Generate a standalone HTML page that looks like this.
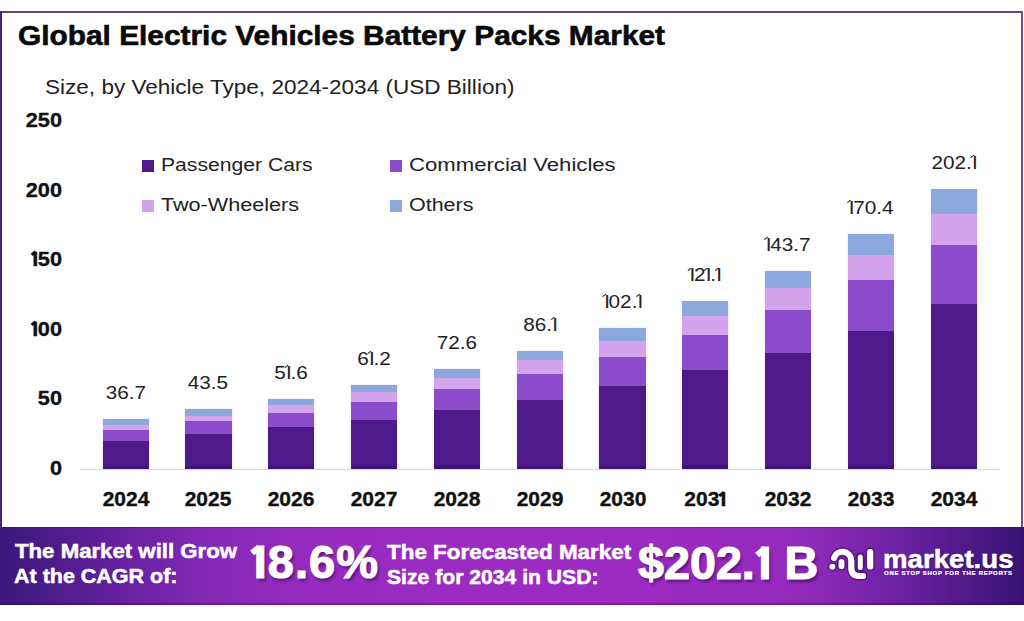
<!DOCTYPE html>
<html><head><meta charset="utf-8">
<style>
html,body{margin:0;padding:0;}
body{width:1024px;height:621px;overflow:hidden;background:#fff;position:relative;font-family:"Liberation Sans",sans-serif;}
.a{position:absolute;white-space:nowrap;}
#ftop{position:absolute;left:0;top:11px;width:1023px;height:2px;background:#654577;}
#fleft{position:absolute;left:0;top:11px;width:2px;height:516px;background:#4e1f80;}
#fright{position:absolute;left:1021px;top:11px;width:2px;height:516px;background:#76508a;}
#title{left:18px;top:20px;font-size:28px;font-weight:bold;color:#0a0a0a;transform-origin:0 0;transform:scaleX(1.066);-webkit-text-stroke:0.6px #0a0a0a;}
#sub{left:45px;top:76px;font-size:19.5px;color:#222;transform-origin:0 0;transform:scaleX(1.156);}
.yl{position:absolute;left:0;width:62px;text-align:right;font-size:21px;font-weight:bold;color:#111;transform-origin:100% 50%;transform:scaleX(1.035);-webkit-text-stroke:0.35px #111;}
.s{position:absolute;width:46.2px;box-shadow:0 0 2px rgba(200,170,230,0.5);}
.vl{position:absolute;width:80px;text-align:center;font-size:19px;color:#222;transform:scaleX(1.09);}
.ob{position:relative;margin:0 -0.5px 0 1px;}
.ob::before{content:"";position:absolute;left:-1.6px;top:5.2px;width:4.6px;height:2.6px;background:#111;transform:rotate(-38deg);}
.ow{position:relative;margin:0 0 0 0.08em;}
.ow::before{content:"";position:absolute;left:-0.05em;top:0.26em;width:0.2em;height:0.13em;background:#fff;transform:rotate(-40deg);}
.o{position:relative;margin:0 -1.2px 0 0.2px;}
.o::before{content:"";position:absolute;left:-1.4px;top:4.6px;width:3.6px;height:1.4px;background:#222;transform:rotate(-40deg);}
.yr{position:absolute;width:80px;text-align:center;top:488px;font-size:20px;font-weight:bold;color:#111;transform:scaleX(1.05);-webkit-text-stroke:0.35px #111;}
#axis{position:absolute;left:80px;top:469px;width:920px;height:1.2px;background:#dcdcdc;}
.lg{position:absolute;width:12px;height:12px;}
.lt{position:absolute;font-size:17.5px;color:#222;transform-origin:0 0;white-space:nowrap;}
#banner{position:absolute;left:0;top:527px;width:1024px;height:78px;box-shadow:inset 0 1px 0 rgba(60,10,90,0.35), inset 0 -2px 1px rgba(40,5,70,0.35);
 background:linear-gradient(90deg,#3b187a 0%,#561e94 8%,#8428b6 20%,#9a2bc0 32%,#9d2bc2 60%,#962abe 75%,#8c29b8 80%,#6c21a2 88%,#4c1886 95%,#3a1272 100%);}
.bt{position:absolute;color:#fff;font-weight:bold;-webkit-text-stroke:0.5px #fff;font-size:20px;line-height:25px;transform-origin:0 0;white-space:nowrap;}
.big{position:absolute;white-space:nowrap;-webkit-text-stroke:1.2px #fff;color:#fff;font-weight:bold;font-size:45px;transform-origin:0 0;text-shadow:2px 3px 3px rgba(50,0,80,0.55);}
#mk{left:883px;top:544.5px;font-size:25px;font-weight:bold;color:#fff;transform-origin:0 0;transform:scaleX(1.105);-webkit-text-stroke:0.5px #fff;text-shadow:1px 1px 2px rgba(40,0,70,0.6);}
#tag{left:884px;top:569.5px;font-size:6px;font-weight:bold;color:#fff;letter-spacing:0.71px;-webkit-text-stroke:0.2px #fff;transform-origin:0 0;}
</style></head><body>
<div id="ftop"></div><div id="fleft"></div><div id="fright"></div>
<div class="a" id="title">Global Electric Vehicles Battery Packs Market</div>
<div class="a" id="sub">Size, by Vehicle Type, 2024-2034 (USD Billion)</div>
<div class="yl" style="top:108px">250</div>
<div class="yl" style="top:177.5px">200</div>
<div class="yl" style="top:247px"><span class=ob>I</span>50</div>
<div class="yl" style="top:316.5px"><span class=ob>I</span>00</div>
<div class="yl" style="top:386px">50</div>
<div class="yl" style="top:455.5px">0</div>
<div id="axis"></div>
<div class="s" style="left:102.50px;top:418.5px;height:50.1px;background:linear-gradient(180deg,#8da8dc 0,#8da8dc 5.7px,#d3a3ec 5.7px,#d3a3ec 10.7px,#8a4ccb 10.7px,#8a4ccb 21.5px,#4e1a8a 21.5px,#4e1a8a 46.6px,#3f1276 47.6px,#3f1276 100%)"></div>
<div class="vl" style="left:85.6px;top:381.5px">36.7</div>
<div class="yr" style="left:85.6px">2024</div>
<div class="s" style="left:185.33px;top:409.0px;height:59.6px;background:linear-gradient(180deg,#8da8dc 0,#8da8dc 6.6px,#d3a3ec 6.6px,#d3a3ec 12.0px,#8a4ccb 12.0px,#8a4ccb 24.7px,#4e1a8a 24.7px,#4e1a8a 56.1px,#3f1276 57.1px,#3f1276 100%)"></div>
<div class="vl" style="left:168.4px;top:372.0px">43.5</div>
<div class="yr" style="left:168.4px">2025</div>
<div class="s" style="left:268.16px;top:398.5px;height:70.1px;background:linear-gradient(180deg,#8da8dc 0,#8da8dc 6.5px,#d3a3ec 6.5px,#d3a3ec 14.3px,#8a4ccb 14.3px,#8a4ccb 28.5px,#4e1a8a 28.5px,#4e1a8a 66.6px,#3f1276 67.6px,#3f1276 100%)"></div>
<div class="vl" style="left:251.3px;top:361.5px">5<span class=o>I</span>.6</div>
<div class="yr" style="left:251.3px">2026</div>
<div class="s" style="left:350.99px;top:384.9px;height:83.7px;background:linear-gradient(180deg,#8da8dc 0,#8da8dc 7.0px,#d3a3ec 7.0px,#d3a3ec 17.1px,#8a4ccb 17.1px,#8a4ccb 34.6px,#4e1a8a 34.6px,#4e1a8a 80.2px,#3f1276 81.2px,#3f1276 100%)"></div>
<div class="vl" style="left:334.1px;top:347.9px">6<span class=o>I</span>.2</div>
<div class="yr" style="left:334.1px">2027</div>
<div class="s" style="left:433.82px;top:369.3px;height:99.3px;background:linear-gradient(180deg,#8da8dc 0,#8da8dc 8.6px,#d3a3ec 8.6px,#d3a3ec 19.6px,#8a4ccb 19.6px,#8a4ccb 41.3px,#4e1a8a 41.3px,#4e1a8a 95.8px,#3f1276 96.8px,#3f1276 100%)"></div>
<div class="vl" style="left:416.9px;top:332.3px">72.6</div>
<div class="yr" style="left:416.9px">2028</div>
<div class="s" style="left:516.65px;top:350.6px;height:118.0px;background:linear-gradient(180deg,#8da8dc 0,#8da8dc 8.8px,#d3a3ec 8.8px,#d3a3ec 23.5px,#8a4ccb 23.5px,#8a4ccb 48.6px,#4e1a8a 48.6px,#4e1a8a 114.5px,#3f1276 115.5px,#3f1276 100%)"></div>
<div class="vl" style="left:499.8px;top:313.6px">86.<span class=o>I</span></div>
<div class="yr" style="left:499.8px">2029</div>
<div class="s" style="left:599.48px;top:327.7px;height:140.9px;background:linear-gradient(180deg,#8da8dc 0,#8da8dc 12.5px,#d3a3ec 12.5px,#d3a3ec 28.5px,#8a4ccb 28.5px,#8a4ccb 58.0px,#4e1a8a 58.0px,#4e1a8a 137.4px,#3f1276 138.4px,#3f1276 100%)"></div>
<div class="vl" style="left:582.6px;top:290.7px"><span class=o>I</span>02.<span class=o>I</span></div>
<div class="yr" style="left:582.6px">2030</div>
<div class="s" style="left:682.31px;top:301.4px;height:167.2px;background:linear-gradient(180deg,#8da8dc 0,#8da8dc 15.2px,#d3a3ec 15.2px,#d3a3ec 33.7px,#8a4ccb 33.7px,#8a4ccb 69.4px,#4e1a8a 69.4px,#4e1a8a 163.7px,#3f1276 164.7px,#3f1276 100%)"></div>
<div class="vl" style="left:665.4px;top:264.4px"><span class=o>I</span>2<span class=o>I</span>.<span class=o>I</span></div>
<div class="yr" style="left:665.4px">203<span class=ob>I</span></div>
<div class="s" style="left:765.14px;top:270.6px;height:198.0px;background:linear-gradient(180deg,#8da8dc 0,#8da8dc 17.2px,#d3a3ec 17.2px,#d3a3ec 39.0px,#8a4ccb 39.0px,#8a4ccb 81.7px,#4e1a8a 81.7px,#4e1a8a 194.5px,#3f1276 195.5px,#3f1276 100%)"></div>
<div class="vl" style="left:748.2px;top:233.6px"><span class=o>I</span>43.7</div>
<div class="yr" style="left:748.2px">2032</div>
<div class="s" style="left:847.97px;top:233.9px;height:234.7px;background:linear-gradient(180deg,#8da8dc 0,#8da8dc 20.6px,#d3a3ec 20.6px,#d3a3ec 46.4px,#8a4ccb 46.4px,#8a4ccb 96.7px,#4e1a8a 96.7px,#4e1a8a 231.2px,#3f1276 232.2px,#3f1276 100%)"></div>
<div class="vl" style="left:831.1px;top:196.9px"><span class=o>I</span>70.4</div>
<div class="yr" style="left:831.1px">2033</div>
<div class="s" style="left:930.80px;top:188.5px;height:280.1px;background:linear-gradient(180deg,#8da8dc 0,#8da8dc 24.8px,#d3a3ec 24.8px,#d3a3ec 55.8px,#8a4ccb 55.8px,#8a4ccb 115.5px,#4e1a8a 115.5px,#4e1a8a 276.6px,#3f1276 277.6px,#3f1276 100%)"></div>
<div class="vl" style="left:913.9px;top:151.5px">202.<span class=o>I</span></div>
<div class="yr" style="left:913.9px">2034</div>
<div class="lg" style="left:142px;top:160px;background:#4e1a8a"></div>
<div class="lt" style="left:161px;top:154.5px;transform:scaleX(1.208)">Passenger Cars</div>
<div class="lg" style="left:390px;top:160px;background:#8a4ccb"></div>
<div class="lt" style="left:409px;top:154.5px;transform:scaleX(1.265)">Commercial Vehicles</div>
<div class="lg" style="left:142px;top:200px;background:#d3a3ec"></div>
<div class="lt" style="left:161px;top:194.5px;transform:scaleX(1.234)">Two-Wheelers</div>
<div class="lg" style="left:390px;top:200px;background:#8da8dc"></div>
<div class="lt" style="left:409px;top:194.5px;transform:scaleX(1.227)">Others</div>
<div id="banner"></div>
<div class="bt" style="left:15px;top:539px;transform:scaleX(1.11)">The Market will Grow</div>
<div class="bt" style="left:14px;top:564px;transform:scaleX(1.074)">At the CAGR of:</div>
<div class="big" style="left:250px;top:534px;font-size:47px;letter-spacing:1px"><span class=ow>I</span>8.6%</div>
<div class="bt" style="left:387px;top:540px;transform:scaleX(1.121)">The Forecasted Market</div>
<div class="bt" style="left:387px;top:565px;transform:scaleX(1.057)">Size for 2034 in USD:</div>
<div class="big" style="left:638px;top:536px;font-size:46.7px;letter-spacing:0">$202.<span class=ow>I</span> B</div>
<svg style="position:absolute;left:0;top:0" width="1024" height="621" viewBox="0 0 1024 621">
<g fill="none" stroke-linecap="round" stroke="#4a0f6e" stroke-opacity="0.75" stroke-width="9">
<path d="M834 558 A8.85 8.85 0 0 1 851.3 560.5 L851.3 568 Q851.5 576 859 576 L863 576"/>
<path d="M841.5 562 L841.5 566.3"/><path d="M860.3 557 L860.3 567.6"/><path d="M870.2 552 L870.2 566.5"/>
</g>
<circle cx="832.3" cy="566.7" r="4.5" fill="#4a0f6e" fill-opacity="0.75"/>
<g fill="none" stroke-linecap="round" stroke="#fff" stroke-width="6.2">
<path d="M834 558 A8.85 8.85 0 0 1 851.3 560.5 L851.3 568 Q851.5 576 859 576 L863 576"/>
<path d="M841.5 562 L841.5 566.3" stroke-width="5.8"/><path d="M860.3 557 L860.3 567.6" stroke-width="5"/><path d="M870.2 552 L870.2 566.5"/>
</g>
<circle cx="832.3" cy="566.7" r="3" fill="#fff"/>
</svg>
<div class="a" id="mk">market.us</div>
<div class="a" id="tag">ONE STOP SHOP FOR THE REPORTS</div>
</body></html>
